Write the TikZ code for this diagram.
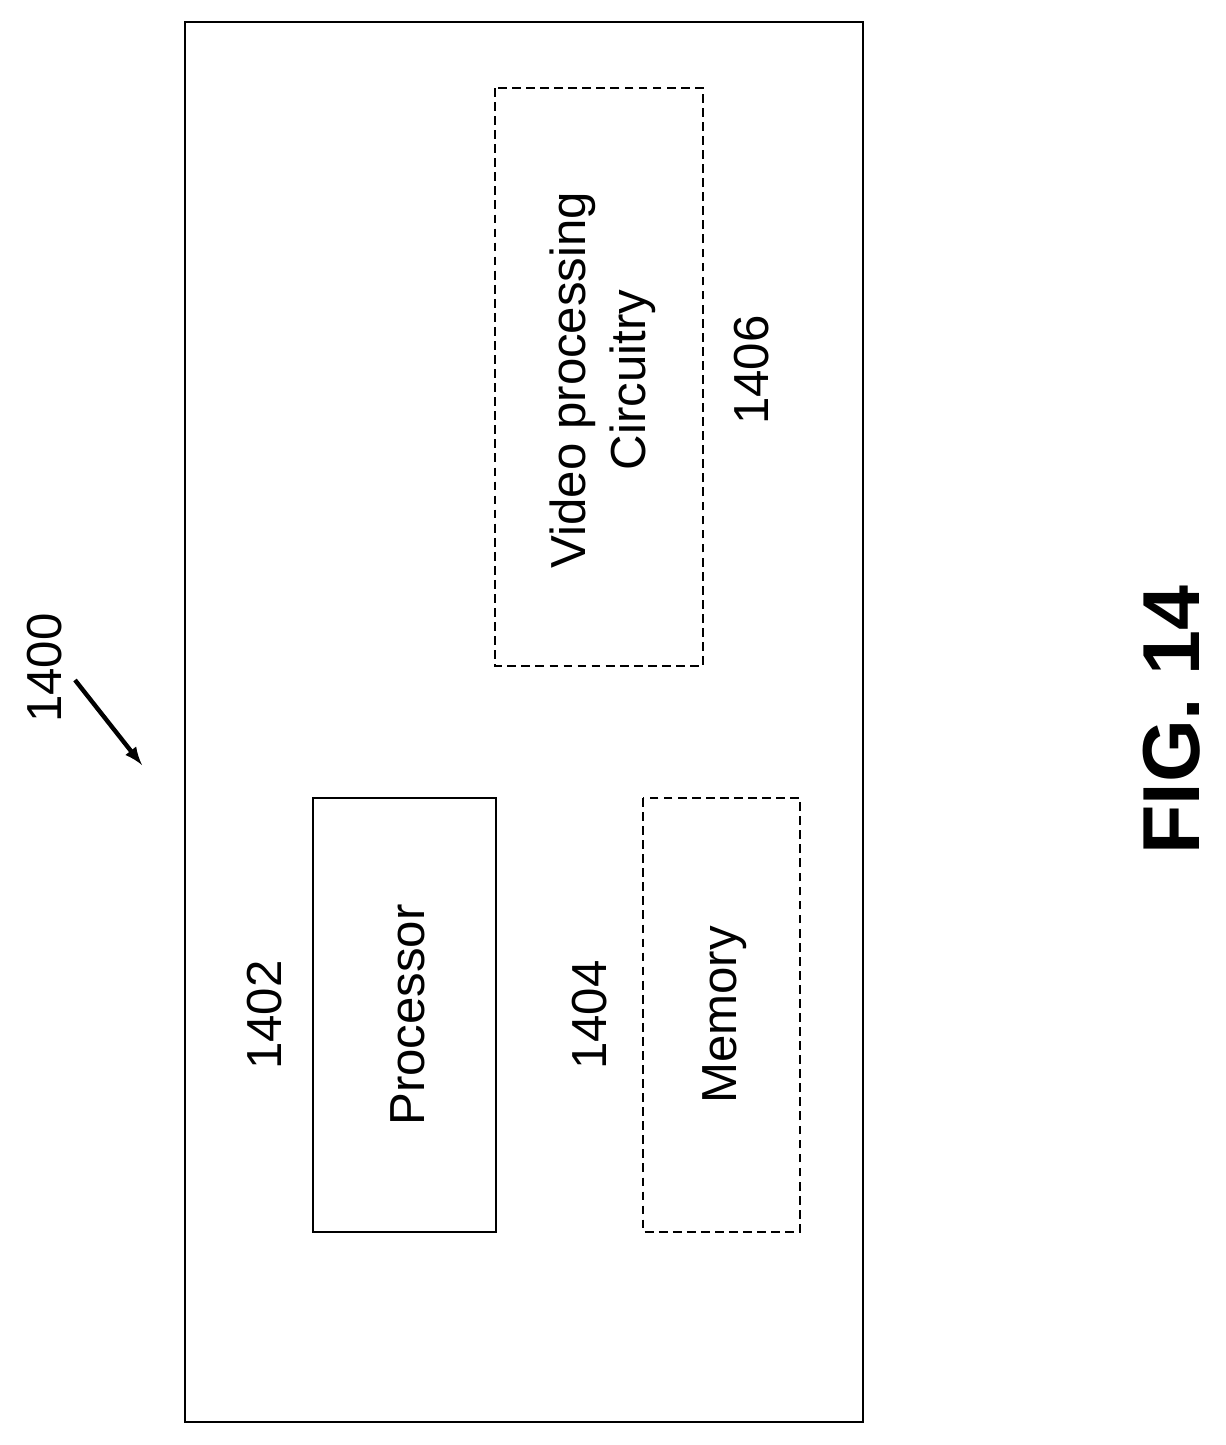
\documentclass[tikz,border=0pt]{standalone}
\usepackage{fontspec}
\setmainfont{Liberation Sans}
\begin{document}
\begin{tikzpicture}[x=0.02cm,y=-0.02cm,
  box/.style={draw,line width=1.2pt},
  dbox/.style={draw,line width=1.2pt,dashed,dash pattern=on 5pt off 3pt},
  lbl/.style={rotate=90,font=\fontsize{28}{34}\selectfont,align=center}]
\useasboundingbox (0,0) rectangle (1226,1445);
\draw[box] (185,22) rectangle (863,1422);
\draw[box] (313,798) rectangle (496,1232);
\draw[dbox] (643,798) rectangle (800,1232);
\draw[dbox] (495,88) rectangle (703,666);
\node[lbl] (proc) at (408,1015) {Processor};
\node[lbl] (n1402) at (265,1015) {1402};
\node[lbl] (n1404) at (590,1015) {1404};
\node[lbl] (mem) at (725,1015) {Memory};
\node[lbl] (video) at (603,380) {Video processing\\Circuitry};
\node[lbl] (n1406) at (752,370) {1406};
\node[lbl] (n1400) at (45,668) {1400};
\coordinate (tail) at (75,680);
\coordinate (tip) at (142,765);
\draw[line width=2.5pt,-latex] (tail) -- (tip);
\node[rotate=90,font=\bfseries\fontsize{46}{50}\selectfont] (fig) at (1172,720) {FIG. 14};
\end{tikzpicture}
\end{document}
